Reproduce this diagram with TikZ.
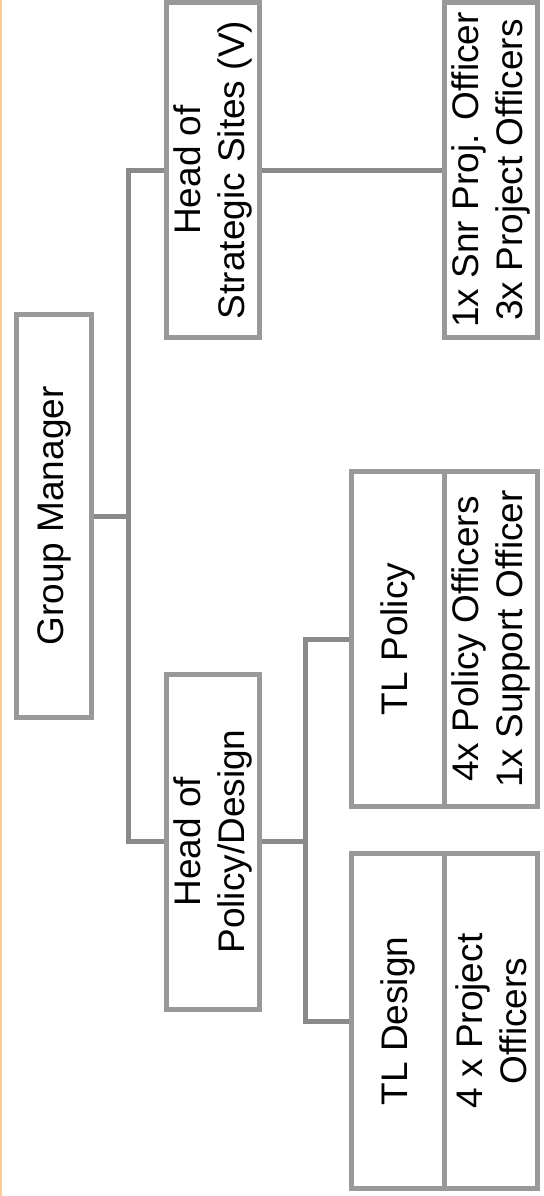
\documentclass[tikz,border=0pt]{standalone}
\usepackage{fontspec}
\setmainfont{Liberation Sans}
\usetikzlibrary{positioning}

\definecolor{boxgray}{RGB}{153,153,153}
\definecolor{linkgray}{RGB}{138,138,138}
\definecolor{edgeorange}{RGB}{255,204,153}

\begin{document}
\begin{tikzpicture}[
  x=0.5pt, y=-0.5pt,
  font=\fontsize{18.5pt}{22pt}\selectfont,
  box/.style={draw=boxgray, line width=2.5pt, rectangle, rotate=90, inner sep=1pt, minimum width=167.5pt, minimum height=46.5pt, align=center},
  topnode/.style={box, minimum width=201.5pt, minimum height=37.5pt},
  link/.style={draw=linkgray, line width=2.5pt}
]
  \useasboundingbox (0,0) rectangle (544,1196);
  \draw[edgeorange, line width=1pt] (1,0) -- (1,1196);

  % Ebene 1: Gruppenleitung
  \node[topnode] (gm) at (54,516) {Group Manager};

  % Ebene 2: Bereichsleiter
  \node[box] (hoss) at (212.5,170) {Head of\\Strategic Sites (V)};
  \node[box] (hopd) at (212.5,841.5) {Head of\\Policy/Design};

  % Ebene 3: Teams
  \node[box] (snr) at (490.5,170) {1x Snr Proj. Officer\\3x Project Officers};
  \node[box] (tlpol) at (398,639) {TL Policy};
  \node[box] (tlpolstaff) at (491,639) {4x Policy Officers\\1x Support Officer};
  \node[box] (tldes) at (398,1021) {TL Design};
  \node[box] (tldesstaff) at (491,1021) {4 x Project\\Officers};

  % Verbindungen
  \coordinate (bus1) at (128.5,516);
  \coordinate (bus2) at (305,841.5);
  \draw[link] (gm.south) -- (bus1);
  \draw[link] (hoss.north) -| (bus1) |- (hopd.north);
  \draw[link] (hoss.south) -- (snr.north);
  \draw[link] (hopd.south) -- (bus2);
  \draw[link] (tlpol.north) -| (bus2) |- (tldes.north);

\end{tikzpicture}
\end{document}
